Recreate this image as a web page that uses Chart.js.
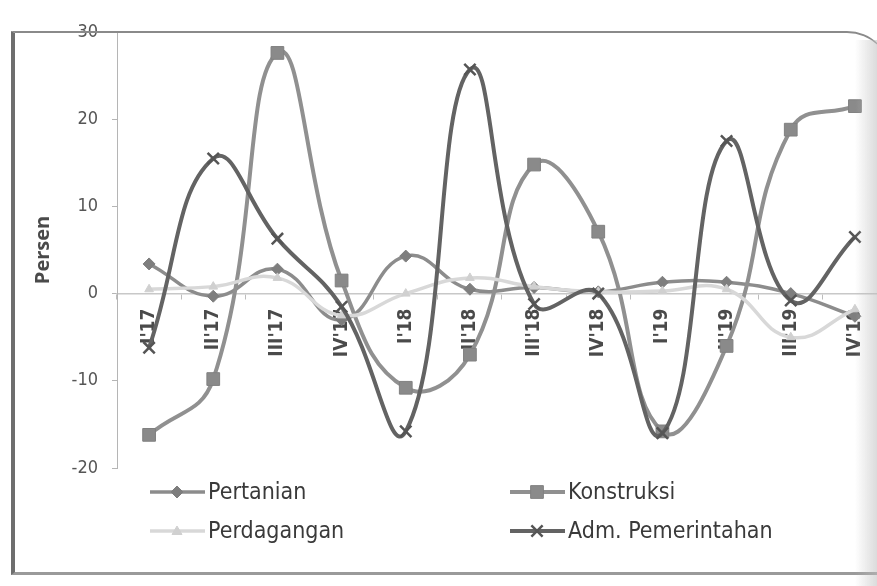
<!DOCTYPE html>
<html>
<head>
<meta charset="utf-8">
<script src="https://cdn.jsdelivr.net/npm/chart.js@4/dist/chart.umd.min.js"></script>
<style>
  html, body { margin: 0; padding: 0; background: #fff; overflow: hidden; }
  #wrap { position: relative; width: 877px; height: 586px; overflow: hidden; background: #fff; }
  #frame {
    position: absolute; left: 11px; top: 31px; width: 880px; height: 544px;
    border-top: 2px solid #8a8a8a; border-left: 4px solid #6e6e6e; border-bottom: 3px solid #9a9a9a;
    border-top-right-radius: 44px; box-sizing: border-box; pointer-events: none;
  }
  #shade {
    position: absolute; right: 0; top: 40px; width: 22px; height: 546px;
    background: linear-gradient(to right, rgba(200,200,200,0), rgba(190,190,190,0.55));
    pointer-events: none;
  }
  canvas { position: absolute; left: 0; top: 0; }
</style>
</head>
<body>
<div id="wrap">
  <canvas id="c" width="900" height="586"></canvas>
  <div id="frame"></div>
  <div id="shade"></div>
</div>
<script>
// Quarterly growth by sector, in percent
const categories = ["I'17", "II'17", "III'17", "IV'17", "I'18", "II'18", "III'18", "IV'18", "I'19", "II'19", "III'19", "IV'19"];
const pertanian   = [3.4, -0.3, 2.8, -3.0, 4.3, 0.5, 0.7, 0.2, 1.3, 1.3, 0.0, -2.6];
const konstruksi  = [-16.2, -9.8, 27.6, 1.5, -10.8, -7.0, 14.8, 7.1, -15.8, -6.0, 18.8, 21.5];
const perdagangan = [0.5, 0.8, 1.8, -2.5, 0.0, 1.8, 0.8, 0.2, 0.3, 0.5, -5.0, -1.8];
const admPemerintahan = [-6.2, 15.5, 6.3, -1.5, -15.8, 25.7, -1.2, 0.0, -16.0, 17.5, -0.8, 6.5];
const yTicks = [-20, -10, 0, 10, 20, 30];

const seriesNames = ["Pertanian", "Konstruksi", "Perdagangan", "Adm. Pemerintahan"];

const FONT = "'DejaVu Sans Condensed', 'Open Sans', sans-serif";

const datasets = [
  { label: seriesNames[0], data: pertanian, borderColor: '#8c8c8c', backgroundColor: '#7e7e7e',
    borderWidth: 3.5, pointStyle: 'rectRot', pointRadius: 6, pointBorderWidth: 1, pointBorderColor: '#7e7e7e', order: 3 },
  { label: seriesNames[1], data: konstruksi, borderColor: '#909090', backgroundColor: '#8a8a8a',
    borderWidth: 4, pointStyle: 'rect', pointRadius: 9, pointBorderWidth: 1, pointBorderColor: '#808080', order: 2 },
  { label: seriesNames[2], data: perdagangan, borderColor: '#d8d8d8', backgroundColor: '#d0d0d0',
    borderWidth: 3.5, pointStyle: 'triangle', pointRadius: 5, pointBorderWidth: 1, pointBorderColor: '#d0d0d0', order: 1 },
  { label: seriesNames[3], data: admPemerintahan, borderColor: '#636363', backgroundColor: '#555',
    borderWidth: 4, pointStyle: 'crossRot', pointRadius: 8, pointBorderWidth: 2.5, pointBorderColor: '#555', order: 0 }
];

function drawMarker(ctx, style, x, y, r, fill, stroke, lw) {
  ctx.save();
  ctx.fillStyle = fill; ctx.strokeStyle = stroke; ctx.lineWidth = lw;
  ctx.beginPath();
  if (style === 'rectRot') {
    ctx.moveTo(x, y - r); ctx.lineTo(x + r, y); ctx.lineTo(x, y + r); ctx.lineTo(x - r, y); ctx.closePath();
    ctx.fill(); ctx.stroke();
  } else if (style === 'rect') {
    const s = r * Math.SQRT1_2;
    ctx.rect(x - s, y - s, 2 * s, 2 * s); ctx.fill(); ctx.stroke();
  } else if (style === 'triangle') {
    ctx.moveTo(x, y - r); ctx.lineTo(x + r, y + r * 0.7); ctx.lineTo(x - r, y + r * 0.7); ctx.closePath();
    ctx.fill(); ctx.stroke();
  } else if (style === 'crossRot') {
    const d = r * 0.7;
    ctx.moveTo(x - d, y - d); ctx.lineTo(x + d, y + d);
    ctx.moveTo(x + d, y - d); ctx.lineTo(x - d, y + d);
    ctx.stroke();
  }
  ctx.restore();
}

// Two-column legend under the plot
const gridLegend = {
  id: 'gridLegend',
  afterDraw(chart) {
    const ctx = chart.ctx;
    const cols = [150, 510];
    const rows = [492, 531];
    chart.data.datasets.forEach((ds, i) => {
      const x = cols[i % 2], y = rows[Math.floor(i / 2)];
      ctx.save();
      ctx.strokeStyle = ds.borderColor; ctx.lineWidth = ds.borderWidth;
      ctx.beginPath(); ctx.moveTo(x, y); ctx.lineTo(x + 55, y); ctx.stroke();
      ctx.restore();
      drawMarker(ctx, ds.pointStyle, x + 27, y, ds.pointRadius, ds.backgroundColor, ds.pointBorderColor, ds.pointBorderWidth);
      ctx.save();
      ctx.fillStyle = '#3a3a3a';
      ctx.font = "23px " + FONT;
      ctx.textBaseline = 'middle';
      ctx.fillText(ds.label, x + 58, y + 1);
      ctx.restore();
    });
  }
};

new Chart(document.getElementById('c'), {
  type: 'line',
  data: { labels: categories, datasets },
  options: {
    responsive: false,
    animation: false,
    layout: { padding: { left: 0, top: 32, right: 13, bottom: 118 } },
    elements: { line: { tension: 0.45 } },
    plugins: { legend: { display: false }, tooltip: { enabled: false } },
    scales: {
      x: {
        position: { y: 0 },
        offset: true,
        grid: { offset: true, drawOnChartArea: false, drawTicks: true, tickLength: 5, color: '#bdbdbd' },
        border: { color: '#c8c8c8', width: 1.5 },
        ticks: {
          minRotation: 90, maxRotation: 90, padding: 10, autoSkip: false,
          color: '#4a4a4a', font: { family: FONT, size: 19, weight: 'bold' }
        }
      },
      y: {
        min: -20, max: 30,
        afterBuildTicks(scale) { scale.ticks = yTicks.map(v => ({ value: v })); },
        afterFit(scale) { scale.width = 117; },
        grid: { drawOnChartArea: false, drawTicks: true, tickLength: 5, color: '#b5b5b5' },
        border: { color: '#b5b5b5', width: 1, dash: [4, 2] },
        ticks: { padding: 14, color: '#555', font: { family: FONT, size: 18 } },
        title: {
          display: true, text: 'Persen', color: '#4a4a4a',
          font: { family: "'Open Sans', sans-serif", size: 20, weight: 'bold' },
          padding: { top: 31, bottom: 0 }
        }
      }
    }
  },
  plugins: [gridLegend]
});
</script>
</body>
</html>
